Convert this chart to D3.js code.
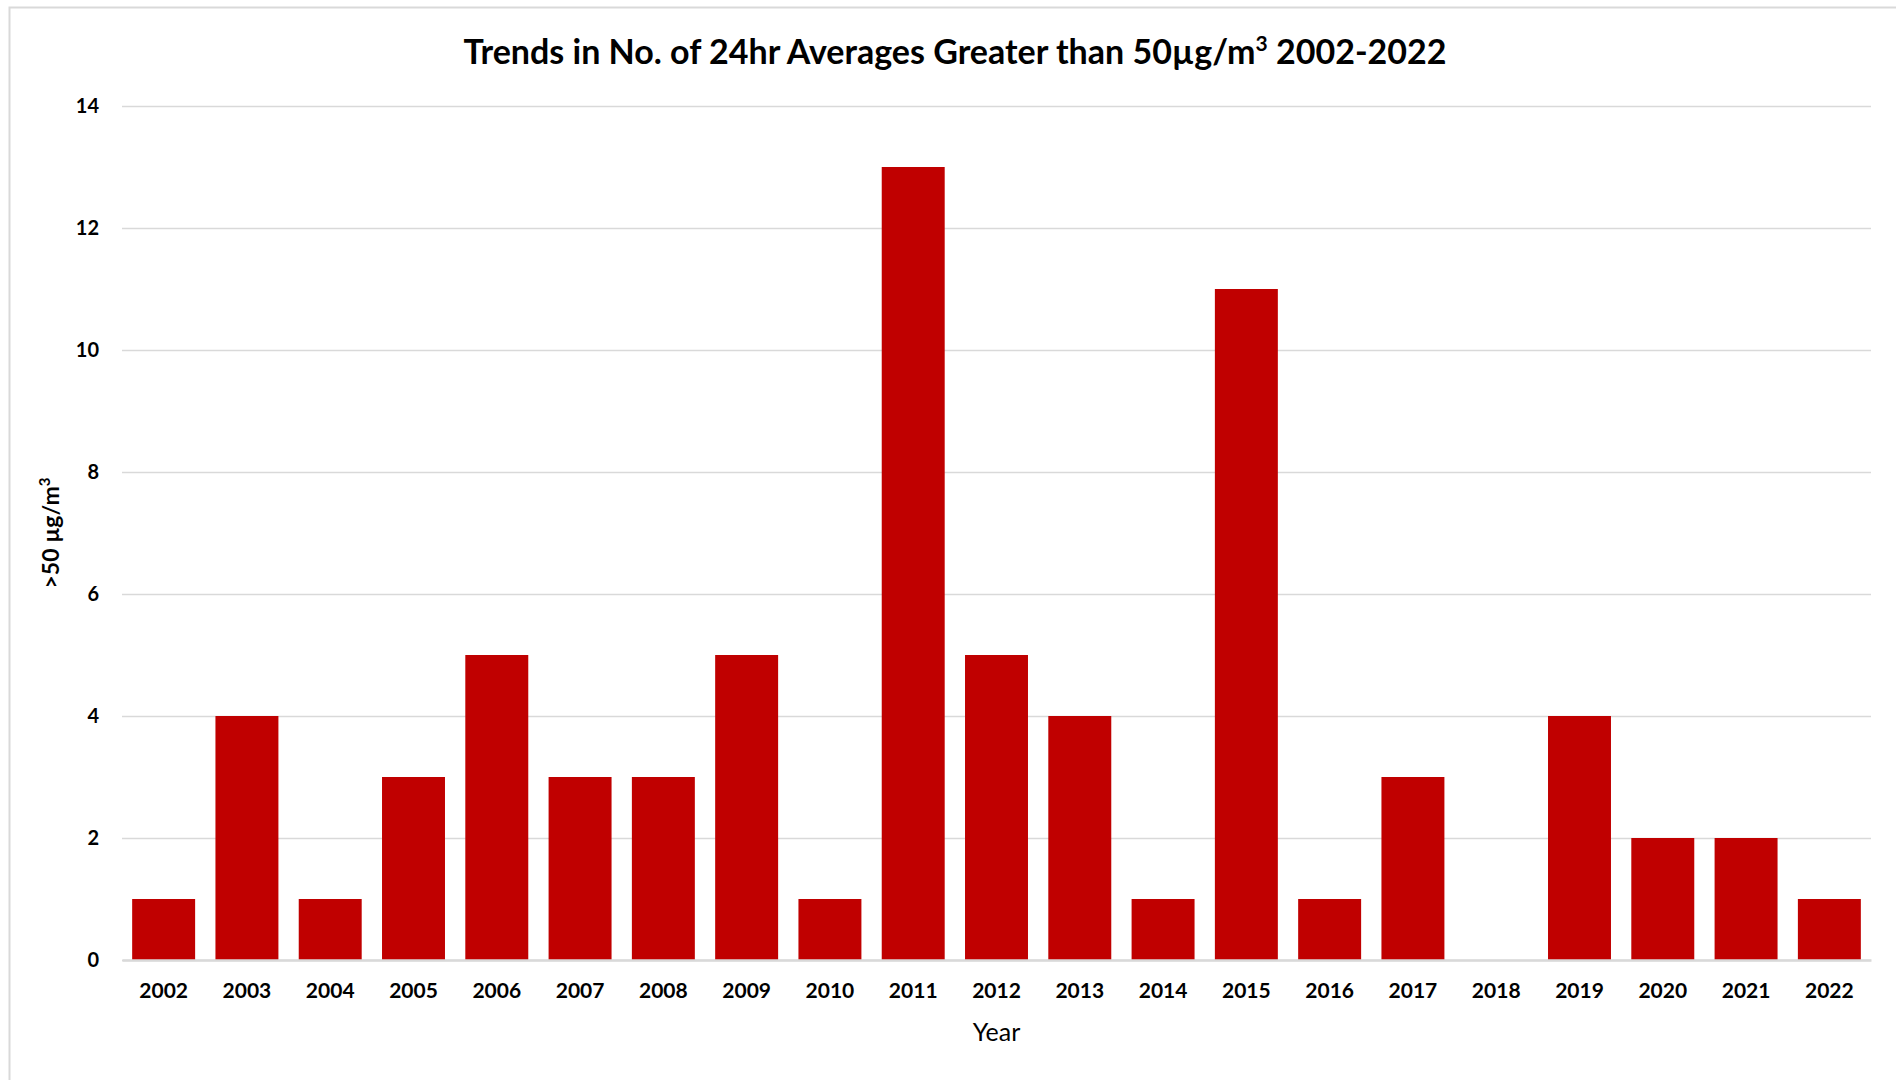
<!DOCTYPE html>
<html>
<head>
<meta charset="utf-8">
<script src="https://cdn.jsdelivr.net/npm/d3@7"></script>
<style>
  html, body { margin: 0; padding: 0; background: #fff; }
  svg { display: block; font-family: Lato, "Open Sans", sans-serif; }
</style>
</head>
<body>
<svg id="chart" width="1896" height="1080"></svg>
<script>
// Number of 24-hour averages above 50 µg/m³, per year
const years = ["2002","2003","2004","2005","2006","2007","2008","2009","2010","2011","2012",
               "2013","2014","2015","2016","2017","2018","2019","2020","2021","2022"];
const exceedances = [1,4,1,3,5,3,3,5,1,13,5,4,1,11,1,3,0,4,2,2,1];
const yTicks = [0,2,4,6,8,10,12,14];

const svg = d3.select("#chart");
const margin = { top: 106, right: 25, bottom: 120, left: 122 };
const W = 1896, H = 1080;
const plotW = W - margin.left - margin.right;
const plotH = H - margin.top - margin.bottom;

// chart frame
svg.append("rect")
  .attr("x", 9.5).attr("y", 7.5)
  .attr("width", W).attr("height", H)
  .attr("fill", "#fff").attr("stroke", "#d9d9d9").attr("stroke-width", 2);

const x = d3.scaleBand().domain(years).range([0, plotW]).paddingInner(0.244).paddingOuter(0.122);
const y = d3.scaleLinear().domain([0, 14]).range([plotH, 0]);

const g = svg.append("g").attr("transform", `translate(${margin.left},${margin.top})`);

// horizontal gridlines + y tick labels
const yAxis = g.append("g")
  .call(d3.axisLeft(y).tickValues(yTicks).tickSize(-plotW).tickPadding(23).tickFormat(d3.format("d")));
yAxis.select(".domain").remove();
yAxis.selectAll(".tick line").attr("stroke", "#d9d9d9").attr("stroke-width", 1.5);
yAxis.selectAll(".tick text")
  .attr("font-family", "Lato, sans-serif").attr("font-weight", "bold")
  .attr("font-size", 20).attr("fill", "#000");

// bars
g.selectAll("rect.bar")
  .data(years.map((yr, i) => ({ yr, v: exceedances[i] })))
  .join("rect")
  .attr("class", "bar")
  .attr("x", d => x(d.yr))
  .attr("width", x.bandwidth())
  .attr("y", d => y(d.v))
  .attr("height", d => y(0) - y(d.v))
  .attr("fill", "#c00000");

// x axis (baseline + year labels)
const xAxis = g.append("g")
  .attr("transform", `translate(0,${plotH})`)
  .call(d3.axisBottom(x).tickSize(0).tickPadding(23));
xAxis.select(".domain").attr("stroke", "#d9d9d9").attr("stroke-width", 2.5);
xAxis.selectAll(".tick text")
  .attr("font-family", "Lato, sans-serif").attr("font-weight", "bold")
  .attr("font-size", 21).attr("fill", "#000");

// title
const title = svg.append("text")
  .attr("x", 955).attr("y", 64)
  .attr("text-anchor", "middle")
  .attr("font-weight", "bold").attr("font-size", 34).attr("fill", "#000");
title.append("tspan").text("Trends in No. of 24hr Averages Greater than 50µg/m");
title.append("tspan").attr("dy", -13).attr("font-size", 21).text("3");
title.append("tspan").attr("dy", 13).text(" 2002-2022");

// axis titles
svg.append("text")
  .attr("x", margin.left + plotW / 2).attr("y", 1041)
  .attr("text-anchor", "middle")
  .attr("font-size", 25).attr("fill", "#000")
  .text("Year");

const yTitle = svg.append("text")
  .attr("transform", `translate(59,${margin.top + plotH / 2}) rotate(-90)`)
  .attr("text-anchor", "middle")
  .attr("font-weight", "bold").attr("font-size", 23).attr("fill", "#000");
yTitle.append("tspan").text(">50 µg/m");
yTitle.append("tspan").attr("dy", -9).attr("font-size", 15).text("3");
</script>
</body>
</html>
